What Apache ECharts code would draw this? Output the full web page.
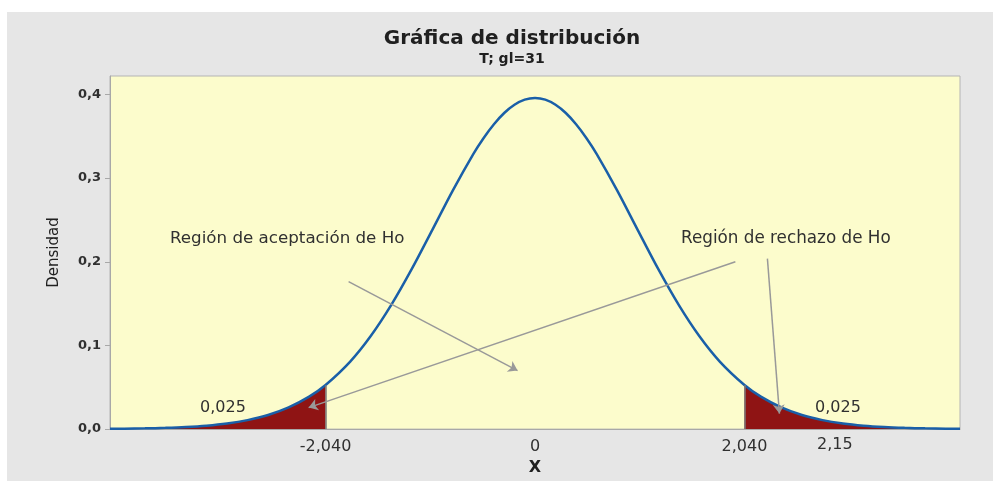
<!DOCTYPE html>
<html>
<head>
<meta charset="utf-8">
<script src="https://cdn.jsdelivr.net/npm/echarts@6/dist/echarts.min.js"></script>
<style>
  html, body { margin: 0; padding: 0; background: #ffffff; }
  #panel { position: absolute; left: 7px; top: 12px; width: 986px; height: 469px; background: #e6e6e6; }
  #main { position: absolute; left: 0; top: 0; width: 993px; height: 481px; }
</style>
</head>
<body>
<div id="panel"></div>
<div id="main"></div>
<script>
// valores de x y densidad t (gl=31)
var xs = [-4.14, -4.0, -3.8, -3.6, -3.4, -3.2, -3.0, -2.8, -2.6, -2.4, -2.2, -2.04,
  -1.8, -1.6, -1.4, -1.2, -1.0, -0.8, -0.6, -0.5, -0.4, -0.3, -0.2, -0.1, 0,
  0.1, 0.2, 0.3, 0.4, 0.5, 0.6, 0.8, 1.0, 1.2, 1.4, 1.6, 1.8,
  2.04, 2.2, 2.4, 2.6, 2.8, 3.0, 3.2, 3.4, 3.6, 3.8, 4.0, 4.14];
var dens = [0.00035, 0.00051, 0.00087, 0.00148, 0.00248, 0.00411, 0.0067, 0.01074, 0.0168, 0.0259, 0.0388, 0.0527,
  0.0807, 0.1112, 0.1484, 0.1914, 0.2381, 0.2853, 0.3290, 0.3480, 0.3644, 0.3778, 0.3876, 0.3937, 0.3957,
  0.3937, 0.3876, 0.3778, 0.3644, 0.3480, 0.3290, 0.2853, 0.2381, 0.1914, 0.1484, 0.1112, 0.0807,
  0.0527, 0.0388, 0.0259, 0.0168, 0.01074, 0.0067, 0.00411, 0.00248, 0.00148, 0.00087, 0.00051, 0.00035];
var critico = 2.04;
var xTicks = [-2.04, 0, 2.04];
var xTickLabels = ['-2,040', '0', '2,040'];
var yTicks = [0, 0.1, 0.2, 0.3, 0.4];

var curva = xs.map(function (x, i) { return [x, dens[i]]; });
var colaIzq = curva.filter(function (p) { return p[0] <= -critico; });
var colaDer = curva.filter(function (p) { return p[0] >= critico; });
var yCrit = dens[xs.indexOf(critico)];

var myChart = echarts.init(document.getElementById('main'));
var fuente = '"DejaVu Sans", "Noto Sans", sans-serif';

myChart.setOption({
  animation: false,
  backgroundColor: 'transparent',
  textStyle: { fontFamily: fuente },
  title: {
    text: 'Gráfica de distribución',
    subtext: 'T; gl=31',
    left: 507,
    textAlign: 'center',
    top: 24,
    itemGap: 3,
    textStyle: { fontFamily: fuente, fontSize: 20, fontWeight: 'bold', color: '#202020' },
    subtextStyle: { fontFamily: fuente, fontSize: 14, fontWeight: 'bold', color: '#202020' }
  },
  grid: {
    left: 110, right: 33, top: 76, bottom: 51,
    show: true,
    backgroundColor: '#fcfccc',
    borderColor: '#b4b4b4',
    borderWidth: 1
  },
  xAxis: {
    type: 'value',
    min: -4.14,
    max: 4.14,
    name: 'X',
    nameLocation: 'middle',
    nameGap: 22,
    nameTextStyle: { fontSize: 16, fontWeight: 'bold', color: '#202020' },
    axisLine: { onZero: false, lineStyle: { color: '#a8a8a8' } },
    axisTick: { show: false },
    splitLine: { show: false },
    axisLabel: {
      customValues: xTicks,
      margin: 10,
      fontSize: 16,
      color: '#303030',
      formatter: function (v) {
        var i = xTicks.indexOf(v);
        return i >= 0 ? xTickLabels[i] : '';
      }
    }
  },
  yAxis: {
    type: 'value',
    min: 0,
    max: 0.422,
    name: 'Densidad',
    nameLocation: 'middle',
    nameGap: 48,
    nameTextStyle: { fontSize: 15, color: '#202020' },
    axisLine: { show: true, onZero: false, lineStyle: { color: '#a8a8a8' } },
    axisTick: { show: true, customValues: yTicks, length: 5, lineStyle: { color: '#a8a8a8' } },
    splitLine: { show: false },
    axisLabel: {
      customValues: yTicks,
      margin: 9,
      fontSize: 13,
      fontWeight: 'bold',
      color: '#303030',
      formatter: function (v) { return v.toFixed(1).replace('.', ','); }
    }
  },
  graphic: [
    { type: 'text', left: 170, top: 230, style: { text: 'Región de aceptación de Ho', font: '16.7px ' + fuente, fill: '#303030' } },
    { type: 'text', left: 681, top: 230, style: { text: 'Región de rechazo de Ho', font: '16.8px ' + fuente, fill: '#303030' } },
    { type: 'text', left: 200, top: 400, style: { text: '0,025', font: '16px ' + fuente, fill: '#303030' } },
    { type: 'text', left: 815, top: 400, style: { text: '0,025', font: '16px ' + fuente, fill: '#303030' } },
    { type: 'text', left: 817, top: 437, style: { text: '2,15', font: '16px ' + fuente, fill: '#303030' } }
  ],
  series: [
    {
      type: 'line',
      data: colaIzq,
      smooth: 0.3,
      symbol: 'none',
      lineStyle: { width: 0 },
      areaStyle: { color: '#8f1414', opacity: 1 },
      z: 2,
      markLine: {
        silent: true,
        symbol: 'none',
        label: { show: false },
        lineStyle: { color: '#7a7a7a', width: 1.5, type: 'solid' },
        data: [[{ coord: [-critico, 0] }, { coord: [-critico, yCrit] }]]
      }
    },
    {
      type: 'line',
      data: colaDer,
      smooth: 0.3,
      symbol: 'none',
      lineStyle: { width: 0 },
      areaStyle: { color: '#8f1414', opacity: 1 },
      z: 2,
      markLine: {
        silent: true,
        symbol: 'none',
        label: { show: false },
        lineStyle: { color: '#7a7a7a', width: 1.5, type: 'solid' },
        data: [[{ coord: [critico, 0] }, { coord: [critico, yCrit] }]]
      }
    },
    {
      type: 'line',
      data: curva,
      smooth: 0.3,
      symbol: 'none',
      lineStyle: { color: '#1a5fa8', width: 2.5 },
      z: 3
    },
    {
      // flechas de las anotaciones
      type: 'line',
      data: [],
      z: 4,
      markLine: {
        silent: true,
        symbol: ['none', 'arrow'],
        symbolSize: 9,
        label: { show: false },
        lineStyle: { color: '#999999', width: 1.5, type: 'solid' },
        data: [
          [{ coord: [-1.816, 0.1762] }, { coord: [-0.170, 0.0699] }],
          [{ coord: [1.952, 0.2001] }, { coord: [-2.205, 0.0257] }],
          [{ coord: [2.264, 0.2037] }, { coord: [2.381, 0.0185] }]
        ]
      }
    }
  ]
});
</script>
</body>
</html>
